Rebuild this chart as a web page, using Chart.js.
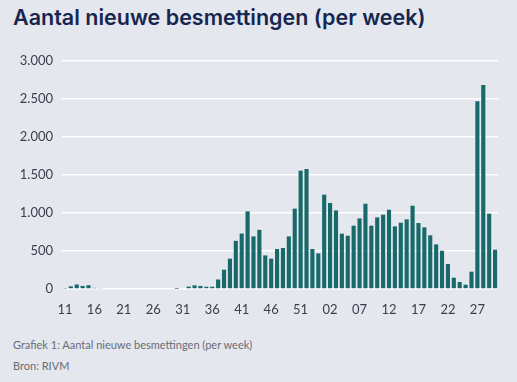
<!DOCTYPE html>
<html>
<head>
<meta charset="utf-8">
<script src="https://cdn.jsdelivr.net/npm/chart.js"></script>
<style>
  html, body { margin: 0; padding: 0; }
  body { width: 517px; height: 382px; background: #e4e7ee; position: relative; overflow: hidden; }
  #title { position: absolute; left: 13px; top: 4px; font-family: "Inter", sans-serif; font-weight: 600; font-size: 21.5px; color: #16264f; white-space: nowrap; }
  #wrap { position: absolute; left: 0; top: 40px; width: 517px; height: 280px; }
  .note { position: absolute; left: 13px; font-family: "Lato", sans-serif; font-size: 11px; color: #686d78; }
</style>
</head>
<body>
<div id="title">Aantal nieuwe besmettingen (per week)</div>
<div id="wrap"><canvas id="weekChart"></canvas></div>
<div class="note" style="top:338px">Grafiek 1: Aantal nieuwe besmettingen (per week)</div>
<div class="note" style="top:359px">Bron: RIVM</div>
<script>
// weeknummers (jaar 1 loopt t/m week 53, jaar 2 begint met week 00)
const weken = [
  '11','12','13','14','15','16','17','18','19','20','21','22','23','24','25','26','27','28','29','30',
  '31','32','33','34','35','36','37','38','39','40','41','42','43','44','45','46','47','48','49','50',
  '51','52','53',
  '00','01','02','03','04','05','06','07','08','09','10','11','12','13','14','15','16','17','18','19',
  '20','21','22','23','24','25','26','27','28','29','30'
];

const besmettingen = [
  5, 35, 60, 40, 50, 15, 12, 0, 0, 0, 0, 0, 0, 0, 0, 0, 0, 0, 0, 2,
  10, 32, 48, 40, 30, 30, 125, 254, 399, 634, 730, 1021, 692, 778, 442, 399, 526, 539, 692, 1057,
  1557, 1579, 526,
  469, 1241, 1132, 1034, 728, 701, 833, 929, 1122, 833, 942, 978, 1043, 824, 872, 916, 1096, 868, 811, 706,
  587, 504, 329, 149, 92, 57, 228, 2469, 2685, 991, 517
];

const yMax = 3000;
const yStap = 500;

const ctx = document.getElementById('weekChart');

new Chart(ctx, {
  type: 'bar',
  data: {
    labels: weken,
    datasets: [{
      label: 'Nieuwe besmettingen',
      data: besmettingen,
      backgroundColor: '#17696a',
      borderWidth: 0,
      categoryPercentage: 1,
      barPercentage: 0.7
    }]
  },
  options: {
    responsive: true,
    maintainAspectRatio: false,
    animation: false,
    layout: { padding: { top: 21, right: 19, bottom: 0, left: 0 } },
    plugins: {
      legend: { display: false },
      tooltip: { enabled: false }
    },
    scales: {
      x: {
        grid: { display: false },
        border: { display: false },
        afterFit: (scale) => { scale.height = 31; },
        ticks: {
          autoSkip: false,
          maxRotation: 0,
          minRotation: 0,
          padding: 5,
          color: '#3a3f4c',
          font: { family: 'Lato', size: 13 },
          callback: function (val, i) { return i % 5 === 0 ? this.getLabelForValue(val) : ''; }
        }
      },
      y: {
        min: 0,
        max: yMax,
        afterFit: (scale) => { scale.width = 62; },
        border: { display: false },
        grid: { color: '#ffffff', lineWidth: 1.5, drawTicks: false },
        ticks: {
          stepSize: yStap,
          padding: 9,
          color: '#3a3f4c',
          font: { family: 'Lato', size: 13 },
          callback: (v) => v.toLocaleString('nl-NL')
        }
      }
    }
  }
});
</script>
</body>
</html>
